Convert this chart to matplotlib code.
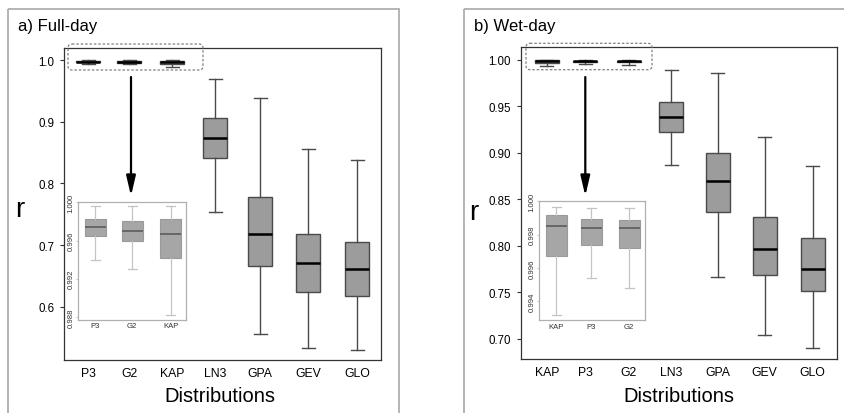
import matplotlib
import matplotlib.pyplot as plt
from matplotlib.patches import FancyBboxPatch, Rectangle

# Figure size in pixels
W, H = 844, 414

# a) Full-day
CATS_A = ["P3", "G2", "KAP", "LN3", "GPA", "GEV", "GLO"]
WHISLO_A = [0.99398, 0.99304, 0.98823, 0.754, 0.556, 0.533, 0.531]
Q1_A = [0.99648, 0.99593, 0.99415, 0.841, 0.6656, 0.624, 0.6175]
MED_A = [0.99742, 0.99704, 0.99666, 0.8736, 0.7175, 0.6705, 0.661]
Q3_A = [0.99826, 0.99805, 0.99826, 0.9055, 0.7775, 0.7185, 0.705]
WHISHI_A = [0.99958, 0.99958, 0.99958, 0.969, 0.938, 0.856, 0.8375]
YTICKS_A = [0.6, 0.7, 0.8, 0.9, 1.0]
YTICKLABELS_A = ["0.6", "0.7", "0.8", "0.9", "1.0"]
INSET_YTICKS_A = [0.988, 0.992, 0.996, 1.000]

# b) Wet-day
CATS_B = ["KAP", "P3", "G2", "LN3", "GPA", "GEV", "GLO"]
WHISLO_B = [0.99315, 0.99541, 0.99482, 0.8869, 0.7663, 0.7043, 0.6907]
Q1_B = [0.99670, 0.99739, 0.99721, 0.922, 0.836, 0.769, 0.7512]
MED_B = [0.99852, 0.99840, 0.99838, 0.9381, 0.8694, 0.7968, 0.7752]
Q3_B = [0.99919, 0.99894, 0.99888, 0.9549, 0.8995, 0.8307, 0.8085]
WHISHI_B = [0.99965, 0.99959, 0.99957, 0.9886, 0.9857, 0.9167, 0.8861]
YTICKS_B = [0.70, 0.75, 0.80, 0.85, 0.90, 0.95, 1.00]
YTICKLABELS_B = ["0.70", "0.75", "0.80", "0.85", "0.90", "0.95", "1.00"]
INSET_YTICKS_B = [0.994, 0.996, 0.998, 1.000]


def px_axes(fig, x0, y0, x1, y1):
    # axes placed by pixel box (top-left origin)
    return fig.add_axes([x0 / W, 1 - y1 / H, (x1 - x0) / W, (y1 - y0) / H])


def make_stats(cats, lo, q1, med, q3, hi):
    return [dict(label=c, whislo=a, q1=b, med=m, q3=d, whishi=e, fliers=[])
            for c, a, b, m, d, e in zip(cats, lo, q1, med, q3, hi)]


def main_panel(fig, box, xpos, ylim, stats, yticks, yticklabels):
    x0, y0, x1, y1 = box
    ax = px_axes(fig, *box)
    ax.bxp(stats, positions=xpos, widths=24, capwidths=13, patch_artist=True,
           showfliers=False,
           boxprops=dict(facecolor="#9c9c9c", edgecolor="#4a4a4a", linewidth=1),
           medianprops=dict(color="black", linewidth=1.8),
           whiskerprops=dict(color="#4a4a4a", linewidth=1),
           capprops=dict(color="#4a4a4a", linewidth=1))
    ax.set_xlim(x0, x1)
    ax.set_ylim(*ylim)
    ax.set_xticks(xpos)
    ax.set_xticklabels([s["label"] for s in stats], fontsize=8.8)
    ax.set_yticks(yticks)
    ax.set_yticklabels(yticklabels, fontsize=8.3)
    ax.tick_params(axis="x", length=0, pad=5)
    ax.tick_params(axis="y", length=3, width=0.8, pad=4, color="#333333")
    for s in ax.spines.values():
        s.set_color("#333333")
        s.set_linewidth(0.9)
    return ax


def inset_panel(fig, box, xpos, ylim, stats, yticks):
    x0, y0, x1, y1 = box
    ax = px_axes(fig, *box)
    ax.bxp(stats, positions=xpos, widths=21, capwidths=9, patch_artist=True,
           showfliers=False,
           boxprops=dict(facecolor="#a6a6a6", edgecolor="#9a9a9a", linewidth=0.8),
           medianprops=dict(color="#626262", linewidth=1.3),
           whiskerprops=dict(color="#c4c4c4", linewidth=0.9),
           capprops=dict(color="#c4c4c4", linewidth=0.9))
    ax.set_xlim(x0, x1)
    ax.set_ylim(*ylim)
    ax.set_xticks(xpos)
    ax.set_xticklabels([s["label"] for s in stats], fontsize=5.6, color="#333333")
    ax.set_yticks(yticks)
    ax.set_yticklabels([f"{t:.3f}" for t in yticks], fontsize=5.6, color="#333333",
                       rotation=90, va="center")
    ax.tick_params(axis="x", length=0, pad=2)
    ax.tick_params(axis="y", length=1.5, width=0.5, pad=1, color="#aaaaaa")
    for s in ax.spines.values():
        s.set_color("#b0b0b0")
        s.set_linewidth(0.9)
    return ax


def decorations(ov, frame, title_xy, title, dash_box, arrow_x, r_xy, dist_xy):
    fx0, fy0, fx1, fy1 = frame
    ov.add_patch(Rectangle((fx0, fy0), fx1 - fx0, fy1 - fy0, fill=False,
                           edgecolor="#a8a8a8", linewidth=1.2))
    ov.text(*title_xy, title, fontsize=12, ha="left", va="center")
    bx0, by0, bx1, by1 = dash_box
    ov.add_patch(FancyBboxPatch((bx0, by0), bx1 - bx0, by1 - by0,
                                boxstyle="round,pad=0,rounding_size=4",
                                fill=False, edgecolor="#808080", linewidth=0.9,
                                linestyle=(0, (2, 1.5))))
    ov.annotate("", xy=(arrow_x, 197), xytext=(arrow_x, 78),
                arrowprops=dict(arrowstyle="-|>,head_length=1.2,head_width=0.28",
                                mutation_scale=10, color="black", lw=1.6,
                                shrinkA=0, shrinkB=0))
    ov.text(*r_xy, "r", fontsize=20, ha="center", va="center")
    ov.text(*dist_xy, "Distributions", fontsize=14.5, ha="center", va="center")


if __name__ == "__main__":
    matplotlib.rcParams["font.family"] = ["Liberation Sans", "DejaVu Sans"]

    fig = plt.figure(figsize=(W / 100, H / 100), dpi=100)

    stats_a = make_stats(CATS_A, WHISLO_A, Q1_A, MED_A, Q3_A, WHISHI_A)
    stats_b = make_stats(CATS_B, WHISLO_B, Q1_B, MED_B, Q3_B, WHISHI_B)

    main_panel(fig, (64, 49, 381, 361), [88, 129, 172, 215, 260, 308, 357],
               (0.514, 1.0195), stats_a, YTICKS_A, YTICKLABELS_A)
    main_panel(fig, (520.7, 48.3, 837, 360), [547, 585.3, 628.7, 671.3, 718, 764.7, 812.7],
               (0.6785, 1.0133), stats_b, YTICKS_B, YTICKLABELS_B)

    # overlay in pixel units for frames, arrows and labels (on top of main axes)
    ov = fig.add_axes([0, 0, 1, 1])
    ov.set_xlim(0, W)
    ov.set_ylim(H, 0)
    ov.axis("off")

    decorations(ov, (8, 10, 399, 430), (18, 27), "a) Full-day",
                (68, 45, 203, 71), 131, (20, 210), (220, 397))
    decorations(ov, (463.7, 10, 860, 430), (473.7, 26), "b) Wet-day",
                (526, 44.3, 652, 70.7), 585.3, (473.7, 213), (679, 397))

    inset_panel(fig, (78.3, 202.5, 185.5, 320.5), [95, 132, 170.7],
                (0.98772, 1.0001), stats_a[:3], INSET_YTICKS_A)
    inset_panel(fig, (539.3, 202.3, 645.3, 321), [556.3, 591.2, 629.2],
                (0.99287, 1.0000), stats_b[:3], INSET_YTICKS_B)

    fig.savefig("out.png", dpi=100)
